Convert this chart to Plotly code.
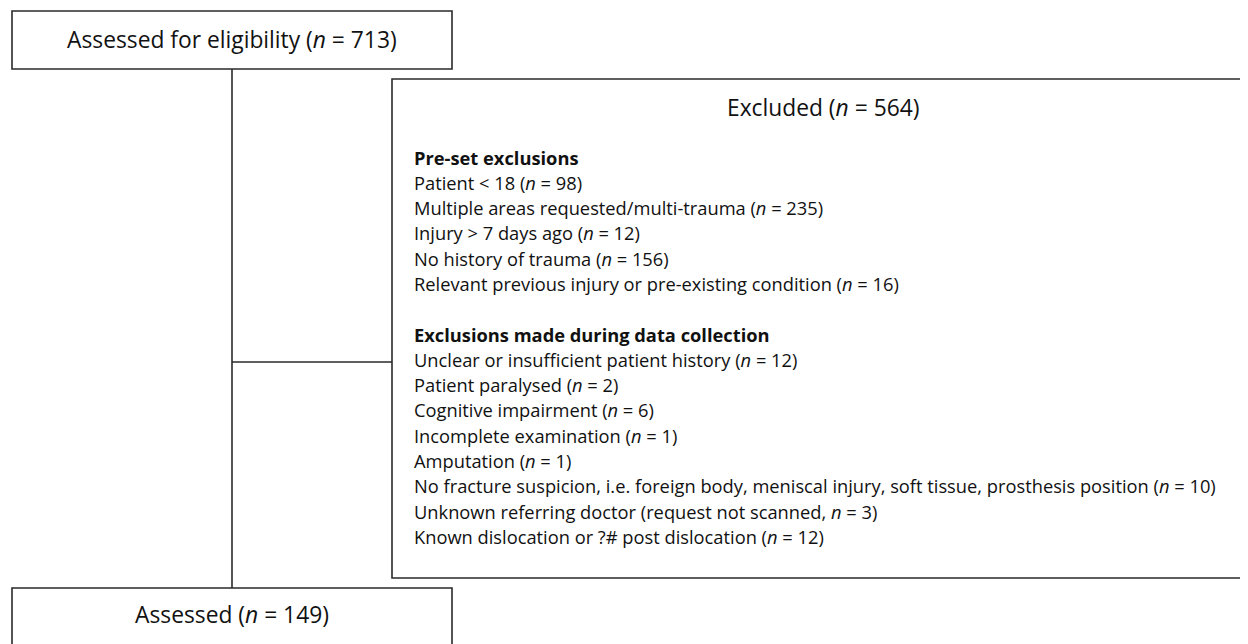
import plotly.graph_objects as go

# ---- data (texts and counts) ----
top_label = "Assessed for eligibility"
top_n = 713
excl_label = "Excluded"
excl_n = 564
bottom_label = "Assessed"
bottom_n = 149

preset_heading = "Pre-set exclusions"
preset_items = [
    "Patient < 18",
    "Multiple areas requested/multi-trauma",
    "Injury > 7 days ago",
    "No history of trauma",
    "Relevant previous injury or pre-existing condition",
]
preset_counts = [98, 235, 12, 156, 16]

collect_heading = "Exclusions made during data collection"
collect_items = [
    "Unclear or insufficient patient history",
    "Patient paralysed",
    "Cognitive impairment",
    "Incomplete examination",
    "Amputation",
    "No fracture suspicion, i.e. foreign body, meniscal injury, soft tissue, prosthesis position",
    "Unknown referring doctor (request not scanned,",
    "Known dislocation or ?# post dislocation",
]
collect_counts = [12, 2, 6, 1, 1, 10, 3, 12]

# ---- layout geometry (pixels, page coordinates) ----
W, H = 1248, 644
PAGE_MARGIN = 8  # default body margin of the html page
FONT = "Open Sans"
TITLE_SIZE = 22.8
LIST_SIZE = 18.3
boxes = {
    "top": (12, 11, 452, 69),
    "excl": (392, 79, 1256, 578),
    "bottom": (12, 588, 452, 660),
}
trunk_x = 232
branch_y = 362
list_x = 412
preset_y0, collect_y0, line_step = 157, 334, 25.3

fig = go.Figure()
fig.add_trace(go.Scatter(x=[PAGE_MARGIN, W], y=[PAGE_MARGIN, H], mode="markers",
                         marker=dict(opacity=0), hoverinfo="skip", showlegend=False))

line = dict(color="#2a2a2a", width=1.6)
for (x0, y0, x1, y1) in boxes.values():
    fig.add_shape(type="rect", x0=x0, y0=y0, x1=x1, y1=y1, line=line,
                  fillcolor="rgba(0,0,0,0)", layer="above")
fig.add_shape(type="line", x0=trunk_x, y0=boxes["top"][3], x1=trunk_x, y1=boxes["bottom"][1], line=line)
fig.add_shape(type="line", x0=trunk_x, y0=branch_y, x1=boxes["excl"][0], y1=branch_y, line=line)

def ann(text, x, y, size, xanchor="center"):
    fig.add_annotation(text=text, x=x, y=y, xref="x", yref="y", showarrow=False,
                       xanchor=xanchor, yanchor="middle",
                       font=dict(family=FONT, size=size, color="#111111"))

tb = boxes["top"]
ann(f"{top_label} (<i>n</i> = {top_n})", (tb[0] + tb[2]) / 2, 39, TITLE_SIZE)
bb = boxes["bottom"]
ann(f"{bottom_label} (<i>n</i> = {bottom_n})", (bb[0] + bb[2]) / 2, 614, TITLE_SIZE)
ann(f"{excl_label} (<i>n</i> = {excl_n})", 823, 107, TITLE_SIZE)

ann(f"<b>{preset_heading}</b>", list_x, preset_y0, LIST_SIZE, "left")
for i, (t, c) in enumerate(zip(preset_items, preset_counts)):
    ann(f"{t} (<i>n</i> = {c})", list_x, preset_y0 + (i + 1) * line_step, LIST_SIZE, "left")

ann(f"<b>{collect_heading}</b>", list_x, collect_y0, LIST_SIZE, "left")
for i, (t, c) in enumerate(zip(collect_items, collect_counts)):
    if t.endswith(","):
        txt = f"{t} <i>n</i> = {c})"
    else:
        txt = f"{t} (<i>n</i> = {c})"
    ann(txt, list_x, collect_y0 + (i + 1) * line_step, LIST_SIZE, "left")

fig.update_layout(
    width=W - PAGE_MARGIN, height=H - PAGE_MARGIN, margin=dict(l=0, r=0, t=0, b=0),
    paper_bgcolor="white", plot_bgcolor="white",
    xaxis=dict(range=[PAGE_MARGIN, W], visible=False, fixedrange=True),
    yaxis=dict(range=[H, PAGE_MARGIN], visible=False, fixedrange=True),
    showlegend=False,
)
fig.write_html("out.html", config={"displayModeBar": False})
